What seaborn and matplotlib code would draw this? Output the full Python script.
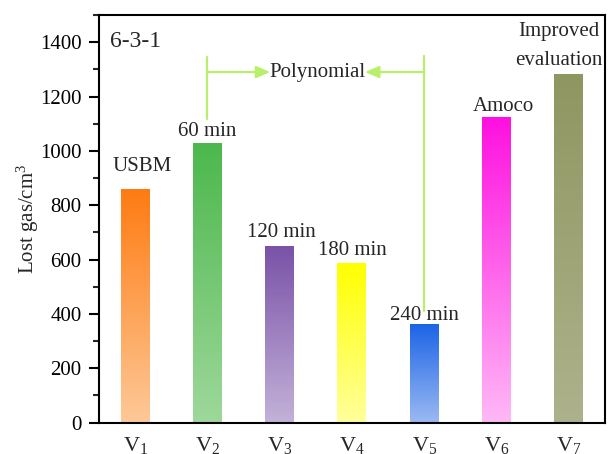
import numpy as np
import pandas as pd
import matplotlib
matplotlib.use("Agg")
import matplotlib.pyplot as plt
from matplotlib import font_manager
from matplotlib.colors import to_rgb
from matplotlib.ticker import MultipleLocator
import seaborn as sns

# Lost gas volume estimated by each method
methods = ["V1", "V2", "V3", "V4", "V5", "V6", "V7"]
tick_labels = [r"$\mathregular{V_{%d}}$" % i for i in range(1, 8)]
lost_gas = [860, 1028, 651, 586, 363, 1124, 1281]
method_names = ["USBM", "60 min", "120 min", "180 min", "240 min", "Amoco",
                "Improved\nevaluation"]

# Gradient colours per bar (top, bottom)
top_colors = ["#ff7b12", "#4cb84c", "#7a52a8", "#ffff00", "#1c64e6", "#ff10e0", "#8f9660"]
bottom_colors = ["#fdc998", "#9ed89b", "#c3b2d8", "#ffff9c", "#9bbaf2", "#feb9f6", "#aeb28c"]

# Pick a Times-like serif face
available = {f.name for f in font_manager.fontManager.ttflist}
serif_face = next((n for n in ["Liberation Serif", "Times New Roman", "Nimbus Roman",
                               "DejaVu Serif"] if n in available), "DejaVu Serif")

sns.set_theme(style="ticks")
plt.rcParams["font.family"] = "serif"
plt.rcParams["font.serif"] = [serif_face, "DejaVu Serif"]
plt.rcParams["mathtext.fontset"] = "custom"
plt.rcParams["mathtext.rm"] = serif_face
plt.rcParams["mathtext.it"] = serif_face + ":italic"

fig = plt.figure(figsize=(6.11, 4.54), dpi=100)
ax = fig.add_axes([0.162, 0.069, 0.828, 0.898])

df = pd.DataFrame({"method": methods, "gas": lost_gas})
sns.barplot(data=df, x="method", y="gas", ax=ax, width=0.4, color="white",
            edgecolor="none", linewidth=0)

ax.set_xlim(-0.5, 6.5)
ax.set_ylim(0, 1500)

# Replace each flat bar with a vertical colour gradient
for patch, c_top, c_bot in zip(ax.patches, top_colors, bottom_colors):
    x0 = patch.get_x()
    w = patch.get_width()
    h = patch.get_height()
    t = np.linspace(0, 1, 256)[:, None]
    rgb = (1 - t) * np.array(to_rgb(c_top)) + t * np.array(to_rgb(c_bot))
    img = np.repeat(rgb[:, None, :], 2, axis=1).reshape(256, 2, 3)
    ax.imshow(img, extent=[x0, x0 + w, 0, h], aspect="auto", zorder=2,
              interpolation="bilinear")
    patch.set_visible(False)

ax.set_aspect("auto")
ax.set_xlim(-0.5, 6.5)
ax.set_ylim(0, 1500)

# Method labels above the bars
label_pos = [(0.10, 941), (1.0, 1070), (2.03, 698), (3.0, 632), (4.01, 396),
             (5.10, 1165), (5.86, 1385)]
for name, (lx, ly) in zip(method_names, label_pos):
    ax.text(lx, ly, name, ha="center", va="center", fontsize=15,
            linespacing=1.75, zorder=5)

# Bracket grouping the polynomial fits
green = "#b8f06c"
ax.plot([1, 1], [1117, 1345], color=green, lw=1.6, zorder=3)
ax.plot([4, 4], [411, 1349], color=green, lw=1.6, zorder=3)
arrow = dict(arrowstyle="-|>,head_length=0.7,head_width=0.3", color=green, lw=1.6,
             shrinkA=0, shrinkB=0)
ax.annotate("", xy=(1.87, 1290), xytext=(1, 1290), arrowprops=arrow, zorder=3)
ax.annotate("", xy=(3.18, 1290), xytext=(4, 1290), arrowprops=arrow, zorder=3)
ax.text(2.52, 1290, "Polynomial", ha="center", va="center", fontsize=15, zorder=5)

ax.text(0.022, 0.936, "6-3-1", transform=ax.transAxes, ha="left", va="center",
        fontsize=17)

ax.set_xticks(range(len(methods)))
ax.set_xticklabels(tick_labels)
ax.set_xlabel("")
ax.set_ylabel(r"Lost gas/cm$^{3}$", fontsize=15, labelpad=-1)
ax.yaxis.set_major_locator(MultipleLocator(200))
ax.yaxis.set_minor_locator(MultipleLocator(100))
ax.set_ylim(0, 1500)

for side in ["left", "right", "top", "bottom"]:
    ax.spines[side].set_visible(True)
    ax.spines[side].set_linewidth(1.5)
    ax.spines[side].set_color("black")

ax.tick_params(axis="y", which="major", direction="out", length=7, width=1.5,
               labelsize=15, pad=5.5, colors="black")
ax.tick_params(axis="y", which="minor", direction="out", length=4, width=1.5)
ax.tick_params(axis="x", which="both", length=0, labelsize=16, pad=9)

fig.savefig("out.png", dpi=100)
